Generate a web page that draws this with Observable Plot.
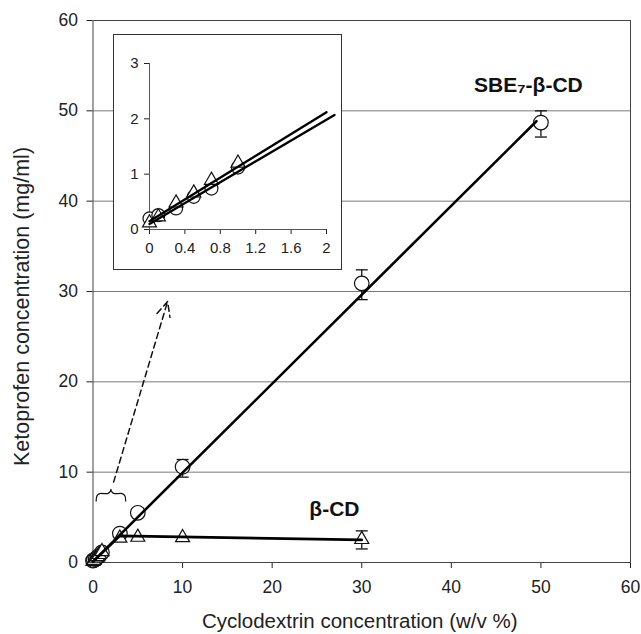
<!DOCTYPE html>
<html><head><meta charset="utf-8">
<script src="https://cdn.jsdelivr.net/npm/d3@7"></script>
<script src="https://cdn.jsdelivr.net/npm/@observablehq/plot@0.6"></script>
<style>
body{margin:0;background:#fff;}
#wrap{position:relative;width:641px;height:634px;}
#inset{position:absolute;left:113px;top:34px;}
</style></head><body><div id="wrap"></div>
<script>
// ---- data ----
const sbeX = [0, 0.1, 0.3, 0.5, 0.7, 1, 3, 5, 10, 30, 50];
const sbeY = [0.2, 0.26, 0.38, 0.59, 0.74, 1.12, 3.2, 5.5, 10.6, 30.9, 48.7];
const bcdX = [0, 0.1, 0.3, 0.5, 0.7, 1, 3, 5, 10, 30];
const bcdY = [0.12, 0.23, 0.48, 0.66, 0.89, 1.2, 2.7, 2.8, 2.75, 2.55];
const errX = [10, 30, 50, 30];
const errLo = [9.45, 29.1, 47.1, 1.5];
const errHi = [11.4, 32.4, 50.0, 3.5];
const sbeFitX = [0, 49.5];
const sbeFitY = [0.1, 48.85];
const bcdFitX = [0, 3, 30];
const bcdFitY = [0.1, 2.95, 2.5];
const insetSbeFitX = [0, 2];
const insetSbeFitY = [0.15, 2.12];
const insetBcdFitX = [0, 2.09];
const insetBcdFitY = [0.1, 2.07];
const xTicks = [0, 10, 20, 30, 40, 50, 60];
const yTicks = [0, 10, 20, 30, 40, 50, 60];
const gridY = [10, 20, 30, 40, 50];
const insetXTicks = [0, 0.4, 0.8, 1.2, 1.6, 2];
const insetYTicks = [0, 1, 2, 3];
const labelText = ["SBE\u2087-\u03B2-CD", "\u03B2-CD"];
const labelX = [48.6, 26.95];
const labelY = [52.1, 5.2];
const arrowX = [2.3, 8.33];
const arrowY = [8.9, 28.9];
const bracketX = [0.35, 0.45, 0.75, 1.7, 1.95, 2.0, 2.05, 2.3, 3.25, 3.55, 3.65];
const bracketY = [6.8, 7.4, 7.62, 7.65, 7.9, 8.1, 7.9, 7.65, 7.62, 7.4, 6.8];
const xTitle = "Cyclodextrin concentration (w/v %)";
const yTitle = "Ketoprofen concentration (mg/ml)";

// ---- build tables ----
const zip = (xs, ys) => xs.map((x, i) => ({x, y: ys[i]}));
const sbe = zip(sbeX, sbeY);
const bcd = zip(bcdX, bcdY);
const errs = errX.map((x, i) => ({x, lo: errLo[i], hi: errHi[i]}));
const labels = labelText.map((t, i) => ({t, x: labelX[i], y: labelY[i]}));
const bracket = zip(bracketX, bracketY);
const insetSbe = sbe.filter(d => d.x <= 2);
const insetBcd = bcd.filter(d => d.x <= 2);

const cap = {draw(ctx, size) { const h = Math.sqrt(size / Math.PI); ctx.moveTo(-h, 0); ctx.lineTo(h, 0); }};
const FONT = "Liberation Sans, Arial, sans-serif";
const INK = "#222";

const main = Plot.plot({
  width: 641, height: 634,
  marginLeft: 92.5, marginRight: 11, marginTop: 20, marginBottom: 72,
  style: {fontFamily: FONT, fontSize: "17.5px", color: INK, background: "#fff"},
  x: {domain: [0, 60], ticks: xTicks, tickSize: 6, tickPadding: 12, label: null},
  y: {domain: [0, 60], ticks: yTicks, tickSize: 6, tickPadding: 9, label: null},
  marks: [
    Plot.ruleY(gridY, {stroke: "#7a7a7a", strokeWidth: 1}),
    Plot.frame({stroke: "#444", strokeWidth: 1}),
    Plot.ruleX(errs, {x: "x", y1: "lo", y2: "hi", stroke: "#111", strokeWidth: 1.3}),
    Plot.dot(errs, {x: "x", y: "lo", symbol: cap, r: 6, stroke: "#111", strokeWidth: 1.3}),
    Plot.dot(errs, {x: "x", y: "hi", symbol: cap, r: 6, stroke: "#111", strokeWidth: 1.3}),
    Plot.dot(sbe, {x: "x", y: "y", r: 7.3, fill: "#fff", stroke: "#111", strokeWidth: 1.2}),
    Plot.dot(bcd, {x: "x", y: "y", symbol: "triangle", r: 5.2, fill: "#fff", stroke: "#111", strokeWidth: 1.2}),
    Plot.line(zip(sbeFitX, sbeFitY), {x: "x", y: "y", stroke: "#000", strokeWidth: 2.6}),
    Plot.line(zip(bcdFitX, bcdFitY), {x: "x", y: "y", stroke: "#000", strokeWidth: 2.6}),
    Plot.line(bracket, {x: "x", y: "y", stroke: "#111", strokeWidth: 1.2, curve: "catmull-rom"}),
    Plot.arrow([0], {x1: () => arrowX[0], y1: () => arrowY[0], x2: () => arrowX[1], y2: () => arrowY[1],
      stroke: "#111", strokeWidth: 1.5, strokeDasharray: "6,4", headLength: 16, headAngle: 50}),
    Plot.text(labels, {x: "x", y: "y", text: "t", fontSize: 21, fontWeight: "bold", lineAnchor: "bottom", fill: "#111"}),
    Plot.text([xTitle], {frameAnchor: "bottom", textAnchor: "middle", lineAnchor: "middle", dy: 59, dx: -2, fontSize: 20.5, fill: INK}),
    Plot.text([yTitle], {frameAnchor: "left", textAnchor: "middle", lineAnchor: "middle", dx: -70.5, dy: 15, rotate: -90, fontSize: 21.5, fill: INK})
  ]
});

const inset = Plot.plot({
  width: 229, height: 236,
  marginLeft: 36, marginRight: 16, marginTop: 29, marginBottom: 41,
  style: {fontFamily: FONT, fontSize: "15px", color: INK, background: "#fff"},
  x: {domain: [0, 2], ticks: insetXTicks, tickFormat: d => String(d), tickSize: 5, tickPadding: 8, label: null},
  y: {domain: [0, 3], ticks: insetYTicks, tickFormat: d => String(d), tickSize: 5, tickPadding: 6, label: null},
  marks: [
    Plot.ruleX([0], {stroke: "#555"}),
    Plot.ruleY([0], {stroke: "#555"}),
    Plot.dot(insetSbe, {x: "x", y: "y", r: 6.5, fill: "#fff", stroke: "#111", strokeWidth: 1.2}),
    Plot.dot(insetBcd, {x: "x", y: "y", symbol: "triangle", r: 5.2, fill: "#fff", stroke: "#111", strokeWidth: 1.2}),
    Plot.line(zip(insetSbeFitX, insetSbeFitY), {x: "x", y: "y", stroke: "#000", strokeWidth: 2.4}),
    Plot.line(zip(insetBcdFitX, insetBcdFitY), {x: "x", y: "y", stroke: "#000", strokeWidth: 2.4})
  ]
});
inset.id = "inset";
inset.style.outline = "1px solid #333";
inset.style.outlineOffset = "-1px";
const wrap = document.getElementById("wrap");
wrap.appendChild(main);
wrap.appendChild(inset);
</script></body></html>
